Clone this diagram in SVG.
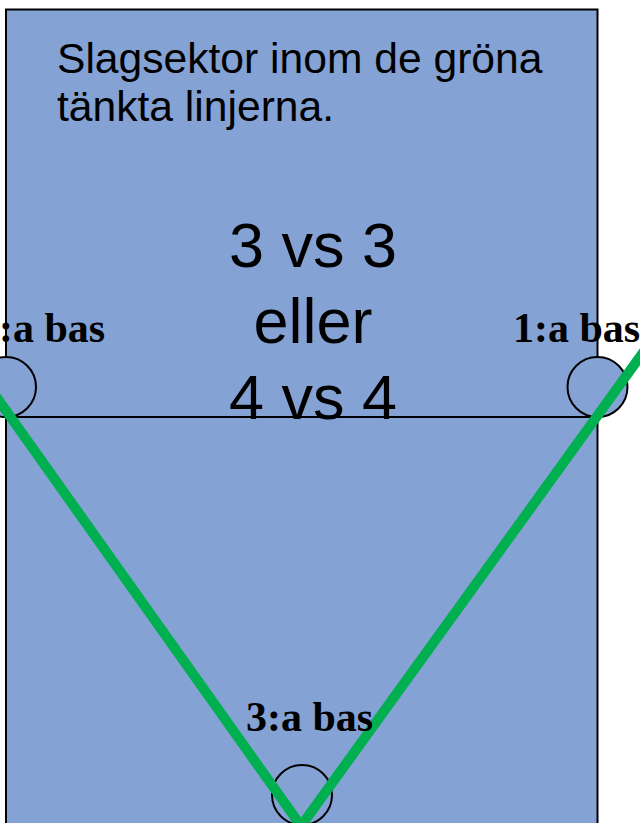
<svg xmlns="http://www.w3.org/2000/svg" width="640" height="823" viewBox="0 0 640 823">
  <style>
    .field { fill: #85a2d4; stroke: #000; stroke-width: 2; }
    .base { fill: #85a2d4; stroke: #000; stroke-width: 2; }
    .lbl { font-family: "Liberation Serif", "Times New Roman", serif; font-weight: bold; font-size: 42px; fill: #000; }
    .title { font-family: "Liberation Sans", Arial, sans-serif; font-size: 42.6px; fill: #000; }
    .big { font-family: "Liberation Sans", Arial, sans-serif; font-size: 63px; fill: #000; text-anchor: middle; }
    .sector { fill: none; stroke: #00b050; stroke-width: 10; stroke-linejoin: miter; }
  </style>
  <rect width="640" height="823" fill="#ffffff"/>
  <g id="field">
    <rect class="field" x="6" y="9.5" width="591.5" height="830"/>
    <line x1="6" y1="417" x2="597.5" y2="417" stroke="#000" stroke-width="2"/>
  </g>
  <g id="base3">
    <circle class="base" cx="302" cy="795" r="30"/>
  </g>
  <g id="base1-left">
    <circle class="base" cx="6" cy="387" r="30"/>
  </g>
  <g id="base1-right">
    <circle class="base" cx="597.5" cy="387" r="30"/>
  </g>
  <g id="connectors">
    <polyline class="sector" points="-25,367 301,826 663,325"/>
  </g>
  <g id="labels">
    <text class="lbl" x="-22" y="342">1:a bas</text>
    <text class="lbl" x="513" y="342">1:a bas</text>
    <text class="lbl" x="246" y="731">3:a bas</text>
  </g>
  <g id="title">
    <text class="title" x="57" y="73">Slagsektor inom de gröna</text>
    <text class="title" x="57" y="121">tänkta linjerna.</text>
  </g>
  <g id="teams">
    <text class="big" x="313" y="267">3 vs 3</text>
    <text class="big" x="313" y="343">eller</text>
    <text class="big" x="313" y="419">4 vs 4</text>
  </g>
</svg>
